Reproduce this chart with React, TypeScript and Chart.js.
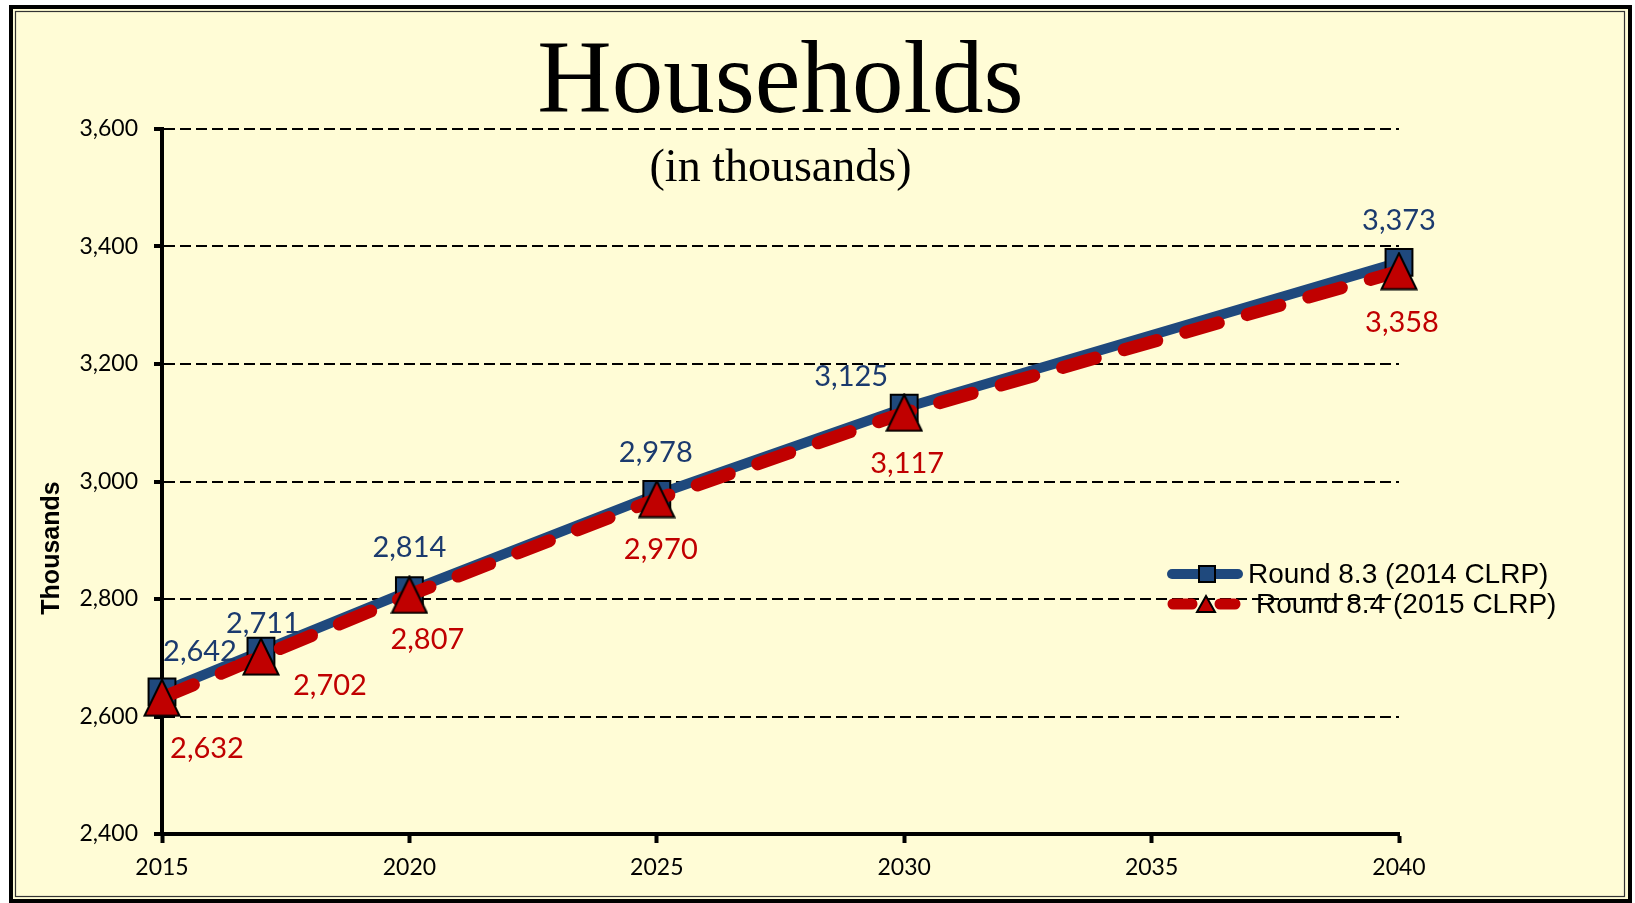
import React, { useEffect, useRef } from "react";
import { Chart, registerables } from "chart.js";

Chart.register(...registerables);

// ---------------- data ----------------
const YEARS = [2015, 2017, 2020, 2025, 2030, 2040];
const ROUND_83 = [2642, 2711, 2814, 2978, 3125, 3373];
const ROUND_84 = [2632, 2702, 2807, 2970, 3117, 3358];
const X_TICKS = [2015, 2020, 2025, 2030, 2035, 2040];
const Y_TICKS = [2400, 2600, 2800, 3000, 3200, 3400, 3600];
const SERIES_NAMES = ["Round 8.3 (2014 CLRP)", "Round 8.4 (2015 CLRP)"];
const TITLE = "Households";
const SUBTITLE = "(in thousands)";
const Y_TITLE = "Thousands";

// ---------------- styling ----------------
const W = 1635;
const H = 903;
const BG = "#FFFCD6";
const BLUE = "#1F497D";
const BLUE_LABEL = "#1B3A6E";
const RED = "#C00000";
const LABEL_FONT = "29px Lato";

// data-label offsets (px) relative to each point
const LABEL_OFFSET_83 = [[38, -40], [2, -28], [0, -43], [-1, -42], [-53, -31], [0, -42]];
const LABEL_OFFSET_84 = [[45, 51], [69, 29], [18, 45], [4, 51], [3, 51], [3, 51]];

const fmt = (v: number) => v.toLocaleString("en-US");

function makeTriangle(): HTMLCanvasElement {
  const c = document.createElement("canvas");
  c.width = 38;
  c.height = 39;
  const g = c.getContext("2d")!;
  g.beginPath();
  g.moveTo(19, 1.5);
  g.lineTo(36.5, 37.5);
  g.lineTo(1.5, 37.5);
  g.closePath();
  g.fillStyle = RED;
  g.fill();
  g.lineWidth = 2;
  g.strokeStyle = "#000";
  g.lineJoin = "miter";
  g.stroke();
  return c;
}

const decorPlugin = {
  id: "decor",
  beforeDraw(chart: any) {
    const ctx = chart.ctx as CanvasRenderingContext2D;
    ctx.save();
    ctx.fillStyle = "#ffffff";
    ctx.fillRect(0, 0, W, H);
    ctx.fillStyle = BG;
    ctx.fillRect(9, 5, 1623, 898);
    ctx.strokeStyle = "#000";
    ctx.lineWidth = 4;
    ctx.strokeRect(11, 7, 1619, 894);
    ctx.lineWidth = 1.2;
    ctx.strokeStyle = "#333";
    ctx.strokeRect(15.5, 11.5, 1609, 885);
    // legend text (drawn before grid, as in the reference)
    ctx.fillStyle = "#000";
    ctx.font = "28px 'Liberation Sans'";
    ctx.textAlign = "left";
    ctx.textBaseline = "middle";
    ctx.fillText(SERIES_NAMES[0], 1248, 575);
    ctx.fillText(SERIES_NAMES[1], 1256, 605);
    ctx.restore();
  },
  afterDatasetsDraw(chart: any) {
    const ctx = chart.ctx as CanvasRenderingContext2D;
    ctx.save();
    ctx.font = LABEL_FONT;
    ctx.textAlign = "center";
    ctx.textBaseline = "middle";
    const drawLabels = (dsIndex: number, offsets: number[][], color: string) => {
      const meta = chart.getDatasetMeta(dsIndex);
      const ds = chart.data.datasets[dsIndex];
      ctx.fillStyle = color;
      meta.data.forEach((pt: any, i: number) => {
        const v = ds.data[i].y;
        ctx.fillText(fmt(v), pt.x + offsets[i][0], pt.y + offsets[i][1]);
      });
    };
    drawLabels(0, LABEL_OFFSET_83, BLUE_LABEL);
    drawLabels(1, LABEL_OFFSET_84, RED);

    // legend samples
    ctx.lineCap = "round";
    ctx.strokeStyle = BLUE;
    ctx.lineWidth = 10;
    ctx.beginPath();
    ctx.moveTo(1172, 574);
    ctx.lineTo(1238, 574);
    ctx.stroke();
    ctx.fillStyle = BLUE;
    ctx.fillRect(1199, 566, 16, 16);
    ctx.lineWidth = 2;
    ctx.strokeStyle = "#000";
    ctx.strokeRect(1199, 566, 16, 16);

    ctx.strokeStyle = RED;
    ctx.lineWidth = 11;
    ctx.beginPath();
    ctx.moveTo(1173, 604);
    ctx.lineTo(1192, 604);
    ctx.moveTo(1220, 604);
    ctx.lineTo(1235, 604);
    ctx.stroke();
    ctx.fillStyle = RED;
    ctx.beginPath();
    ctx.moveTo(1206, 596);
    ctx.lineTo(1215, 612);
    ctx.lineTo(1197, 612);
    ctx.closePath();
    ctx.fill();
    ctx.lineWidth = 2;
    ctx.strokeStyle = "#000";
    ctx.lineJoin = "miter";
    ctx.stroke();
    ctx.restore();
  },
  afterDraw(chart: any) {
    const ctx = chart.ctx as CanvasRenderingContext2D;
    const ca = chart.chartArea;
    const cx = (ca.left + ca.right) / 2;
    ctx.save();
    ctx.fillStyle = "#000";
    ctx.textAlign = "center";
    ctx.textBaseline = "alphabetic";
    ctx.font = "103px 'Liberation Serif'";
    ctx.fillText(TITLE, cx, 112);
    ctx.font = "46px 'Liberation Serif'";
    ctx.fillText(SUBTITLE, cx, 181);
    ctx.translate(52, 548);
    ctx.rotate(-Math.PI / 2);
    ctx.font = "bold 25px 'Liberation Sans'";
    ctx.textBaseline = "middle";
    ctx.fillText(Y_TITLE, 0, 0);
    ctx.restore();
  },
};

export default function App() {
  const ref = useRef<HTMLCanvasElement | null>(null);

  useEffect(() => {
    document.body.style.margin = "0";
    const canvas = ref.current;
    if (!canvas) return;
    const triangle = makeTriangle();
    const chart = new Chart(canvas, {
      type: "line",
      data: {
        datasets: [
          {
            label: SERIES_NAMES[0],
            data: YEARS.map((x, i) => ({ x, y: ROUND_83[i] })),
            borderColor: BLUE,
            backgroundColor: BLUE,
            borderWidth: 10,
            borderCapStyle: "round",
            borderJoinStyle: "round",
            pointStyle: "rect",
            pointRadius: 19,
            pointHoverRadius: 19,
            pointBackgroundColor: BLUE,
            pointBorderColor: "#000",
            pointBorderWidth: 2,
            tension: 0,
            order: 1,
            clip: false,
          },
          {
            label: SERIES_NAMES[1],
            data: YEARS.map((x, i) => ({ x, y: ROUND_84[i] })),
            borderColor: RED,
            backgroundColor: RED,
            borderWidth: 13,
            borderDash: [34, 30],
            borderCapStyle: "round",
            borderJoinStyle: "round",
            pointStyle: triangle,
            pointRadius: 21,
            pointHoverRadius: 21,
            pointBackgroundColor: RED,
            pointBorderColor: "#000",
            pointBorderWidth: 2,
            tension: 0,
            order: 0,
            clip: false,
          },
        ] as any,
      },
      options: {
        responsive: false,
        animation: false,
        devicePixelRatio: 1,
        layout: { padding: { top: 129, right: 236, bottom: 0, left: 0 } },
        plugins: {
          legend: { display: false },
          title: { display: false },
          tooltip: { enabled: false },
        },
        events: [],
        scales: {
          x: {
            type: "linear",
            min: 2015,
            max: 2040,
            afterBuildTicks: (s: any) => {
              s.ticks = X_TICKS.map((v) => ({ value: v }));
            },
            afterFit: (s: any) => {
              s.height = 69;
            },
            grid: {
              drawOnChartArea: false,
              drawTicks: true,
              tickLength: 9,
              tickWidth: 4,
              tickColor: "#000",
              color: "#000",
            },
            border: { display: true, color: "#000", width: 4 },
            ticks: {
              color: "#000",
              font: { family: "Lato", size: 23 },
              padding: 11,
              maxRotation: 0,
              autoSkip: false,
              callback: (v: any) => String(v),
            },
          },
          y: {
            type: "linear",
            min: 2400,
            max: 3600,
            afterBuildTicks: (s: any) => {
              s.ticks = Y_TICKS.map((v) => ({ value: v }));
            },
            afterFit: (s: any) => {
              s.width = 162;
            },
            grid: {
              color: "#000",
              lineWidth: 2,
              drawTicks: true,
              tickLength: 8,
              tickWidth: 4,
              tickColor: "#000",
            },
            border: { display: true, color: "#000", width: 4, dash: [11, 5] },
            ticks: {
              color: "#000",
              font: { family: "Lato", size: 23 },
              padding: 16,
              callback: (v: any) => fmt(Number(v)),
            },
          },
        } as any,
      },
      plugins: [decorPlugin],
    });
    return () => chart.destroy();
  }, []);

  return (
    <div style={{ width: W, height: H }}>
      <canvas ref={ref} width={W} height={H} style={{ display: "block", width: W, height: H }} />
    </div>
  );
}
